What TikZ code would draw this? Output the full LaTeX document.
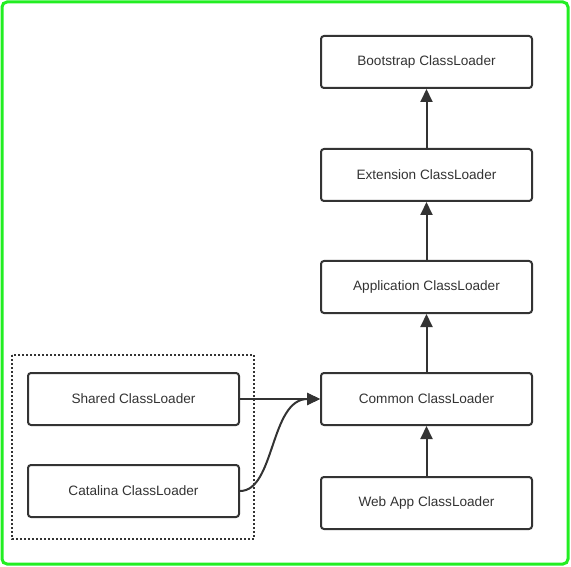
\documentclass[tikz,border=0pt]{standalone}
\usepackage{fontspec}
\setmainfont{Liberation Sans}
\usetikzlibrary{arrows.meta,positioning}
\definecolor{ink}{HTML}{333333}
\definecolor{frame}{HTML}{22EE22}
\tikzset{
  loader/.style={draw=ink,line width=2pt,rounded corners=3pt,minimum width=211pt,minimum height=52pt,inner sep=0pt,text=ink,font=\fontsize{13.6pt}{15pt}\selectfont},
  link/.style={draw=ink,line width=2pt,-{Triangle[length=13pt,width=12pt]}}
}
\begin{document}
\begin{tikzpicture}[x=1pt,y=-1pt]
\useasboundingbox (0,0) rectangle (571,567);
\draw[frame,line width=3pt,rounded corners=5pt] (2,2) rectangle (568,564);
\draw[ink,line width=2pt,dotted] (12,355) rectangle (254,539);
\node[loader] (boot) at (426.5,62) {Bootstrap ClassLoader};
\node[loader] (ext) at (426.5,175) {Extension ClassLoader};
\node[loader] (app) at (426.5,287) {Application ClassLoader};
\node[loader] (common) at (426.5,399) {Common ClassLoader};
\node[loader] (web) at (426.5,503) {Web App ClassLoader};
\node[loader] (shared) at (133.5,399) {Shared ClassLoader};
\node[loader] (cat) at (133.5,491) {Catalina ClassLoader};
\draw[link] (ext) -- (boot);
\draw[link] (app) -- (ext);
\draw[link] (common) -- (app);
\draw[link] (web) -- (common);
\draw[link] (shared) -- (common);
\draw[link] (cat.east) .. controls (275,491) and (270,399) .. (common.west);
\end{tikzpicture}
\end{document}
